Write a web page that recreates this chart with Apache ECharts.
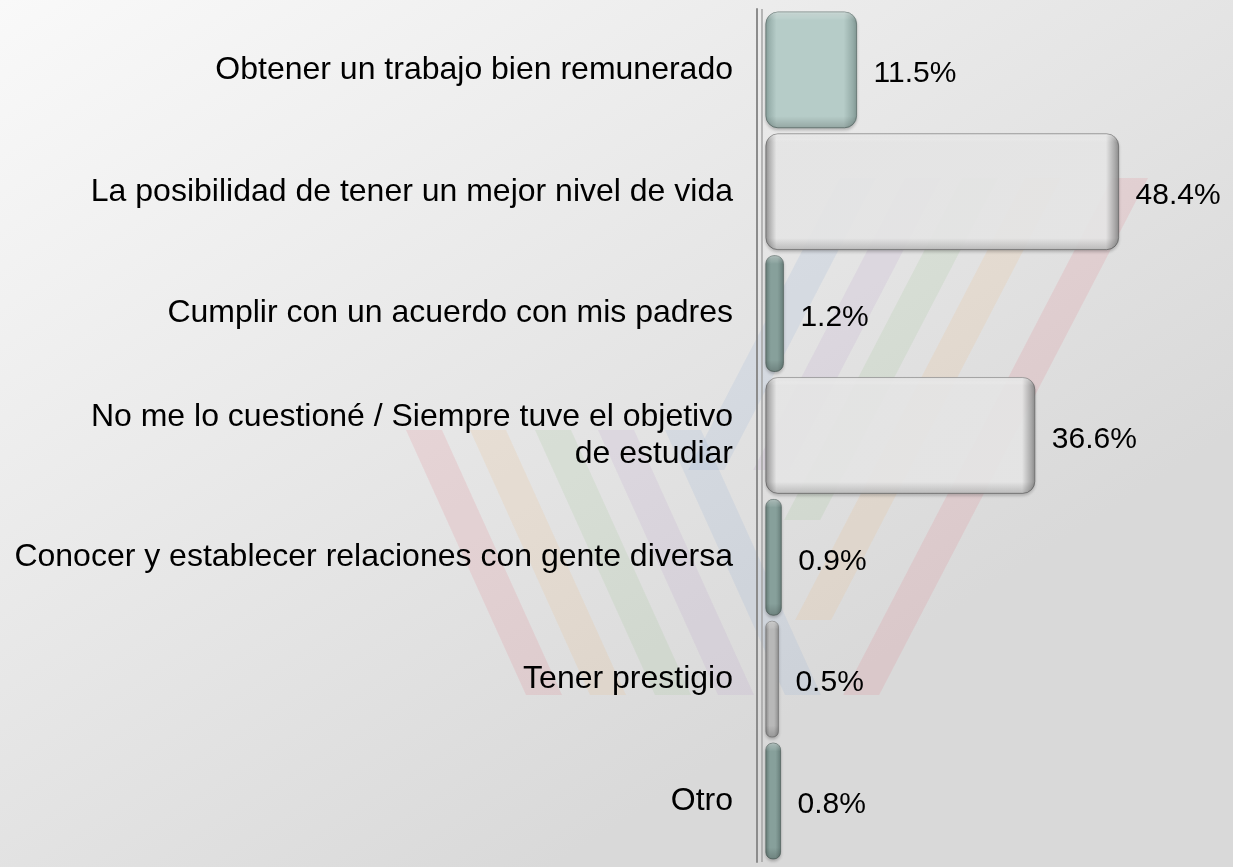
<!DOCTYPE html>
<html>
<head>
<meta charset="utf-8">
<script src="https://cdn.jsdelivr.net/npm/echarts@6/dist/echarts.min.js"></script>
<style>
html,body{margin:0;padding:0;}
#chart{width:1233px;height:867px;}
</style>
</head>
<body>
<div id="chart"></div>
<script>
var categories = [
  "Obtener un trabajo bien remunerado",
  "La posibilidad de tener un mejor nivel de vida",
  "Cumplir con un acuerdo con mis padres",
  "No me lo cuestioné / Siempre tuve el objetivo\nde estudiar",
  "Conocer y establecer relaciones con gente diversa",
  "Tener prestigio",
  "Otro"
];
var values = [11.5, 48.4, 1.2, 36.6, 0.9, 0.5, 0.8];
var barStyles = ["teal", "white", "dark", "white", "dark", "gray", "dark"];

var G = echarts.graphic.LinearGradient;
var palettes = {
  teal:  {edgeL: "#8aa29e", mid: "#b6ccc8", edgeR: "#869d99", stroke: "rgba(100,118,114,0.85)", op: 1},
  white: {edgeL: "#8e8e8e", mid: "#e9e9e9", edgeR: "#8a8a8a", stroke: "rgba(95,95,95,0.75)", op: 0.9},
  gray:  {edgeL: "#8f8f8f", mid: "#b8b8b8", edgeR: "#939393", stroke: "rgba(120,120,120,0.8)", op: 1},
  dark:  {edgeL: "#687f7b", mid: "#87a09b", edgeR: "#6a817d", stroke: "rgba(90,106,102,0.85)", op: 1}
};

// decorative watermark stripes (background logo)
var stripeColors = ["#e0606e", "#eeb06a", "#8fc27e", "#b08fc4", "#7fa6d2"];
var leftTop = [406, 470, 535, 598, 665];
var rightTop = [1112, 1025, 962, 905, 840];
var rightEnd = [695, 620, 520, 470, 470];
var wm = [];
stripeColors.forEach(function (c, i) {
  var w = 36;
  var x0 = leftTop[i], y0 = 430, y1 = 695, dx = 120;
  wm.push({type: "polygon", silent: true, z: -10,
    shape: {points: [[x0, y0], [x0 + w, y0], [x0 + w + dx, y1], [x0 + dx, y1]]},
    style: {fill: c, opacity: 0.14}});
  var xr = rightTop[i], yt = 178, yb = rightEnd[i], dxr = -0.52 * (yb - yt);
  wm.push({type: "polygon", silent: true, z: -10,
    shape: {points: [[xr, yt], [xr + w, yt], [xr + w + dxr, yb], [xr + dxr, yb]]},
    style: {fill: c, opacity: 0.14}});
});

var DEPTH = 9;
function renderBar(params, api) {
  var v = api.value(0), cat = api.value(1);
  var p0 = api.coord([0, cat]);
  var p1 = api.coord([v, cat]);
  var band = api.size([0, 1])[1];
  var h = band * 0.95;
  var x0 = p0[0], x1 = p1[0] + DEPTH;
  var w = x1 - x0;
  var y = p0[1] - h / 2;
  var pal = palettes[barStyles[params.dataIndex]];
  var e = Math.min(0.3, 11 / w);
  var r = Math.min(12, w / 2.2);
  var fill = new G(0, 0, 1, 0, [
    {offset: 0, color: pal.edgeL}, {offset: e, color: pal.mid},
    {offset: 1 - e * 1.2, color: pal.mid}, {offset: 1, color: pal.edgeR}]);
  var shade = new G(0, 0, 0, 1, [
    {offset: 0, color: "rgba(255,255,255,0.35)"}, {offset: 0.07, color: "rgba(255,255,255,0)"},
    {offset: 0.9, color: "rgba(0,0,0,0)"}, {offset: 1, color: "rgba(0,0,0,0.18)"}]);
  return {
    type: "group",
    children: [{
      type: "rect",
      shape: {x: x0, y: y, width: w, height: h, r: r},
      style: {fill: fill, stroke: pal.stroke, lineWidth: 1, opacity: pal.op,
        shadowColor: "rgba(0,0,0,0.2)", shadowBlur: 3, shadowOffsetY: 2}
    }, {
      type: "rect",
      shape: {x: x0, y: y, width: w, height: h, r: r},
      style: {fill: shade}
    }, {
      type: "text",
      style: {
        text: v.toFixed(1) + "%", x: x1 + 17, y: p0[1] + 4,
        fill: "#000", font: "30px 'Liberation Sans', Arial, sans-serif",
        verticalAlign: "middle", align: "left"
      }
    }]
  };
}

var chart = echarts.init(document.getElementById("chart"));
chart.setOption({
  animation: false,
  backgroundColor: new G(0, 0, 0.45, 1, [
    {offset: 0, color: "#f9f9f9"}, {offset: 1, color: "#d9d9d9"}]),
  graphic: wm,
  grid: {left: 757, right: 41, top: 9, bottom: 5, containLabel: false},
  xAxis: {
    type: "value", min: -1.25, max: 60, show: false,
    splitLine: {show: false}
  },
  yAxis: {
    type: "category", data: categories, inverse: true, position: "left",
    axisLine: {show: true, onZero: false, lineStyle: {color: "#8c8c8c", width: 2}},
    axisTick: {show: false},
    axisLabel: {
      margin: 24, color: "#000", fontSize: 32, lineHeight: 37,
      padding: [14, 0, 0, 0],
      backgroundColor: "rgba(0,0,0,0)",
      fontFamily: "'Liberation Sans', Arial, sans-serif"
    }
  },
  series: [{
    type: "custom",
    renderItem: renderBar,
    encode: {x: 0, y: 1},
    data: values.map(function (v, i) { return [v, i]; }),
    clip: false
  }, {
    type: "line",
    data: [],
    markLine: {
      silent: true, symbol: "none", animation: false,
      label: {show: false},
      lineStyle: {color: "#a3a3a3", width: 1.5, type: "solid"},
      data: [{xAxis: -0.6}]
    }
  }]
});
</script>
</body>
</html>
